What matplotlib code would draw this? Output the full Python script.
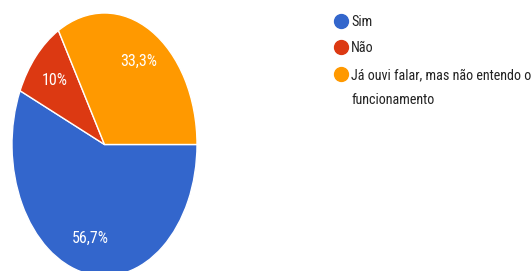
import matplotlib
matplotlib.use("Agg")
import matplotlib.pyplot as plt
from matplotlib.lines import Line2D

labels = ["Sim", "Não", "Já ouvi falar, mas não entendo o\nfuncionamento"]
values = [56.7, 10.0, 33.3]
colors = ["#3366CC", "#DC3912", "#FF9900"]

W, H = 531, 271
fig = plt.figure(figsize=(W / 100, H / 100), dpi=100)
fig.patch.set_facecolor("white")

ax = fig.add_axes([12 / W, (H - 276) / H, 185 / W, 263 / H])
FONT = ["Roboto Condensed", "Roboto", "DejaVu Sans"]


def fmt(p):
    s = f"{p:.1f}"
    if s.endswith(".0"):
        s = s[:-2]
    return s.replace(".", ",") + "%"


wedges, texts, autotexts = ax.pie(
    values, colors=colors, startangle=0, counterclock=False,
    autopct=fmt, pctdistance=0.73,
    wedgeprops=dict(edgecolor="white", linewidth=1),
    textprops=dict(color="white", fontsize=11.5, family=FONT),
)
ax.set_aspect("auto")
ax.set_xlim(-1, 1)
ax.set_ylim(-1, 1)
ax.axis("off")

# legend
row_y = [20.7, 47, 74]
line_gap = 24
for lab, col, yc in zip(labels, colors, row_y):
    fy = (H - yc) / H
    fig.add_artist(Line2D([341 / W], [fy], marker="o", markersize=10,
                          markerfacecolor=col, markeredgecolor=col,
                          linestyle="none", transform=fig.transFigure))
    nl = lab.count("\n")
    base = yc + 5.5 + nl * line_gap
    fig.text(351 / W, (H - base) / H, lab, fontsize=10.2, color="#222222",
             family=FONT, va="baseline", ha="left", linespacing=1.95)

fig.savefig("out.png", dpi=100, facecolor="white")
